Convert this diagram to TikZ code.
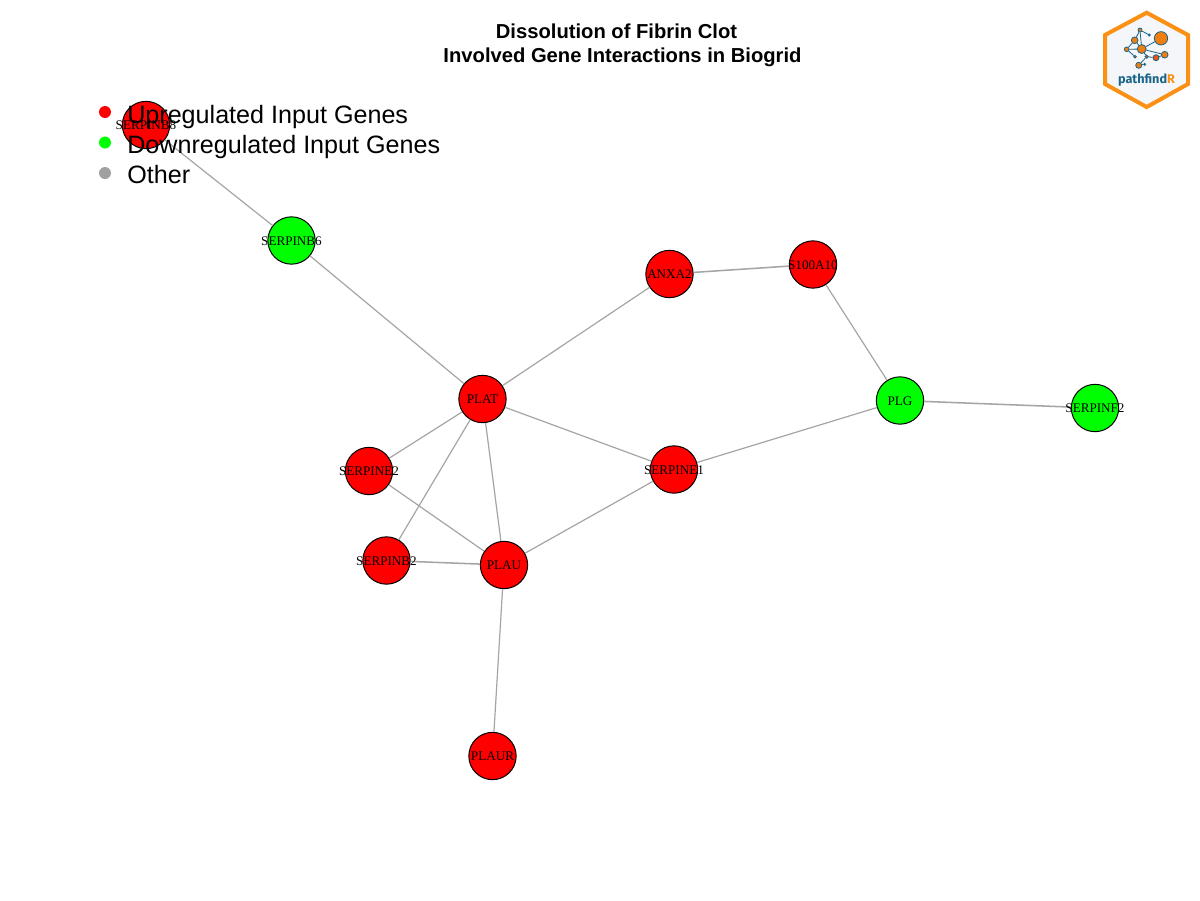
\documentclass[tikz,border=0pt]{standalone}
\usepackage{fontspec}
\setmainfont{Liberation Serif}
\newfontfamily\hv{Liberation Sans}
\newfontfamily\fira{Fira Sans}
\definecolor{edgegray}{RGB}{165,165,165}
\definecolor{hexor}{RGB}{250,145,20}
\definecolor{hexbg}{RGB}{244,246,249}
\definecolor{logob}{RGB}{25,100,135}
\definecolor{logoo}{RGB}{242,125,15}
\definecolor{logor}{RGB}{235,85,25}
\definecolor{legray}{RGB}{160,160,160}
\tikzset{
 x=0.75pt,y=-0.75pt,
 gene/.style={circle,draw=black,line width=0.75pt,minimum size=35.5pt,inner sep=0pt},
 red gene/.style={gene,fill=red},
 green gene/.style={gene,fill=green},
 link/.style={draw=edgegray,line width=0.9pt},
 dbl/.style={draw=edgegray,line width=1.15pt},
 glabel/.style={inner sep=0pt,yshift=-0.4pt,font=\fontsize{9.85pt}{10pt}\selectfont},
 ltext/.style={anchor=base west,inner sep=0pt,font=\hv\fontsize{18.85pt}{20pt}\selectfont},
 ldot/.style={circle,inner sep=0pt,minimum size=9pt},
 ttext/.style={anchor=base,inner sep=0pt,font=\hv\bfseries\fontsize{15.15pt}{16pt}\selectfont},
 ln/.style={draw=logob,line width=0.6pt},
 lb/.style={circle,draw=logob,line width=0.6pt,fill=logoo,inner sep=0pt},
}
\begin{document}
\begin{tikzpicture}
\useasboundingbox (0,0) rectangle (1200,900);
\fill[white] (0,0) rectangle (1200,900);
% nodes
\node[red gene] (b8) at (146,125) {};
\node[green gene] (b6) at (291.5,240.5) {};
\node[red gene] (anxa) at (669.5,274) {};
\node[red gene] (s100) at (813,264.5) {};
\node[red gene] (plat) at (482.5,399) {};
\node[green gene] (plg) at (900,400.5) {};
\node[green gene] (f2) at (1095,408) {};
\node[red gene] (e1) at (674,469.5) {};
\node[red gene] (e2) at (369,471) {};
\node[red gene] (b2) at (386.5,560.5) {};
\node[red gene] (plau) at (504,565) {};
\node[red gene] (plaur) at (492.5,756) {};
% edges
\draw[link] (b8) -- (b6);
\draw[link] (b6) -- (plat);
\draw[link] (plat) -- (anxa);
\draw[dbl] (anxa) -- (s100);
\draw[link] (s100) -- (plg);
\draw[dbl] (plg) -- (f2);
\draw[link] (plg) -- (e1);
\draw[link] (plat) -- (e1);
\draw[link] (plat) -- (e2);
\draw[link] (plat) -- (b2);
\draw[link] (plat) -- (plau);
\draw[link] (e2) -- (plau);
\draw[dbl] (b2) -- (plau);
\draw[link] (e1) -- (plau);
\draw[link] (plau) -- (plaur);
% labels
\node[glabel] (lb8) at (b8) {SERPINB8};
\node[glabel] (lb6) at (b6) {SERPINB6};
\node[glabel] (lanxa) at (anxa) {ANXA2};
\node[glabel] (ls100) at (s100) {S100A10};
\node[glabel] (lplat) at (plat) {PLAT};
\node[glabel] (lplg) at (plg) {PLG};
\node[glabel] (lf2) at (f2) {SERPINF2};
\node[glabel] (le1) at (e1) {SERPINE1};
\node[glabel] (le2) at (e2) {SERPINE2};
\node[glabel] (lb2) at (b2) {SERPINB2};
\node[glabel] (lplau) at (plau) {PLAU};
\node[glabel] (lplaur) at (plaur) {PLAUR};
% legend
\node[ldot,fill=red] (d1) at (105,112) {};
\node[ldot,fill=green] (d2) at (105,142.5) {};
\node[ldot,fill=legray] (d3) at (105,173) {};
\node[ltext] (t1) at (127,123.5) {Upregulated Input Genes};
\node[ltext] (t2) at (127,153.5) {Downregulated Input Genes};
\node[ltext] (t3) at (127,183.7) {Other};
% title
\node[ttext] (title1) at (616.5,38.5) {Dissolution of Fibrin Clot};
\node[ttext] (title2) at (622.5,62.3) {Involved Gene Interactions in Biogrid};
% logo
\draw[hexor,line width=3pt,fill=hexbg,line join=miter] (1146.7,12.7) -- (1188,35) -- (1188,84) -- (1146.7,107) -- (1105,84) -- (1105,35) -- cycle;
\node[lb,minimum size=10pt] (n1) at (1161,38.3) {};
\node[lb,minimum size=6.7pt] (n2) at (1141.7,49) {};
\node[lb,minimum size=5pt] (n3) at (1134.7,40.3) {};
\node[lb,minimum size=3pt] (n4) at (1140,30) {};
\node[lb,minimum size=1.5pt] (n5) at (1149.3,35) {};
\node[lb,minimum size=3.5pt] (n6) at (1126.7,49.3) {};
\node[lb,minimum size=2pt] (n7) at (1135,56.7) {};
\node[lb,minimum size=5pt] (n8) at (1164.7,54.7) {};
\node[lb,minimum size=4.5pt,fill=logor] (n9) at (1156,57.7) {};
\node[lb,minimum size=2.5pt,fill=logor] (n10) at (1146.7,56.7) {};
\node[lb,minimum size=4.5pt] (n11) at (1138.7,65.3) {};
\node[lb,minimum size=1.5pt,fill=logor] (n12) at (1144.7,64.3) {};
\draw[ln] (n2) -- (n1);
\draw[ln] (n2) -- (n3);
\draw[ln] (n3) -- (n4);
\draw[ln] (n2) -- (n4);
\draw[ln] (n4) -- (n5);
\draw[ln] (n2) -- (n6);
\draw[ln] (n6) -- (n3);
\draw[ln] (n6) -- (n7);
\draw[ln] (n2) -- (n10);
\draw[ln] (n10) -- (n9);
\draw[ln] (n9) -- (n8);
\draw[ln] (n10) -- (n11);
\draw[ln] (n2) -- (n8);
\draw[ln] (n11) -- (n12);
\node[anchor=base,inner sep=0pt,font=\fira\bfseries\fontsize{9.5pt}{10pt}\selectfont,text=logob] (logotext) at (1146.5,83.5) {pathfind\textcolor{hexor}{R}};
\end{tikzpicture}
\end{document}
